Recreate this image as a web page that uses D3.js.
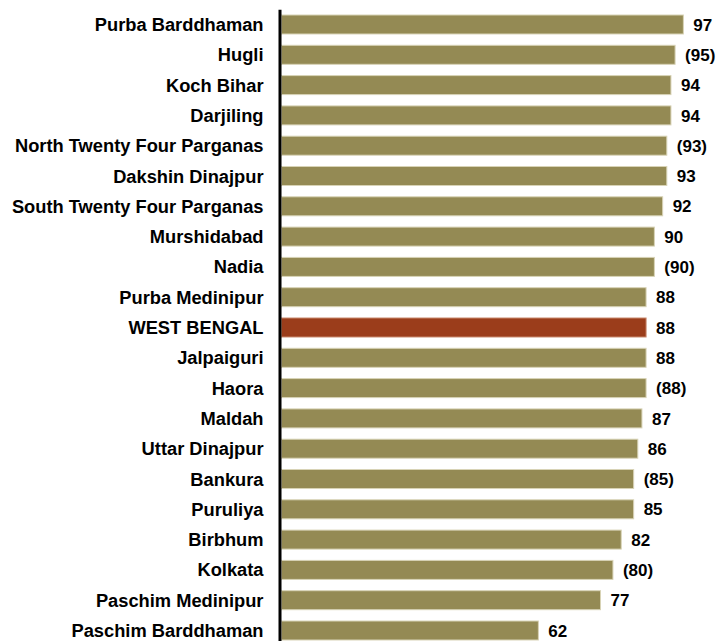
<!DOCTYPE html>
<html>
<head>
<meta charset="utf-8">
<script src="https://cdn.jsdelivr.net/npm/d3@7"></script>
<style>
  body { margin: 0; background: #fff; }
  text { font-family: "Liberation Sans", Arial, sans-serif; font-weight: bold; fill: #000; }
</style>
</head>
<body>
<div class="vis-holder"></div>
<script>
// districts, top to bottom
var districts = ["Purba Barddhaman", "Hugli", "Koch Bihar", "Darjiling",
  "North Twenty Four Parganas", "Dakshin Dinajpur", "South Twenty Four Parganas",
  "Murshidabad", "Nadia", "Purba Medinipur", "WEST BENGAL", "Jalpaiguri", "Haora",
  "Maldah", "Uttar Dinajpur", "Bankura", "Puruliya", "Birbhum", "Kolkata",
  "Paschim Medinipur", "Paschim Barddhaman"];
// bar values
var values = [97, 95, 94, 94, 93, 93, 92, 90, 90, 88, 88, 88, 88, 87, 86, 85, 85, 82, 80, 77, 62];
// printed value labels (brackets as in the source)
var valueLabels = ["97", "(95)", "94", "94", "(93)", "93", "92", "90", "(90)", "88", "88",
  "88", "(88)", "87", "86", "(85)", "85", "82", "(80)", "77", "62"];
var highlight = "WEST BENGAL";

var mydata = districts.map(function(d, i) {
  return { name: d, value: values[i], label: valueLabels[i] };
});

// svg size
var width = 718;
var height = 641;

var svg = d3.select(".vis-holder")
            .append("svg")
            .attr("width", width)
            .attr("height", height);

// x-scale, 0 sits just right of the axis line
var xScale = d3.scaleLinear()
               .domain([0, 100])
               .range([281.5, 695.8]);

// y-scale, one band per district
var yScale = d3.scaleBand()
               .domain(districts)
               .range([9.35, 9.35 + 21 * 30.3])
               .paddingInner(0.373)
               .paddingOuter(0.1865);

// bars
svg.append("g")
   .selectAll("rect")
   .data(mydata)
   .enter()
   .append("rect")
   .attr("x", xScale(0))
   .attr("y", function(d) { return yScale(d.name); })
   .attr("width", function(d) { return xScale(d.value) - xScale(0); })
   .attr("height", yScale.bandwidth())
   .attr("fill", function(d) { return d.name === highlight ? "#9b3d1b" : "#948a54"; })
   .attr("stroke", function(d) { return d.name === highlight ? "#c98a6f" : "#d8d3b6"; })
   .attr("stroke-width", 1);

// value labels
svg.append("g")
   .selectAll("text")
   .data(mydata)
   .enter()
   .append("text")
   .attr("x", function(d) { return xScale(d.value) + 10; })
   .attr("y", function(d) { return yScale(d.name) + yScale.bandwidth() / 2; })
   .attr("dy", "0.36em")
   .style("font-size", "17px")
   .text(function(d) { return d.label; });

// category axis with the thick black line
var yAxis = svg.append("g")
               .attr("transform", "translate(279.5, 0)")
               .call(d3.axisLeft(yScale).tickSize(0).tickPadding(16));

yAxis.select(".domain")
     .attr("stroke", "#000")
     .attr("stroke-width", 3);

yAxis.selectAll("text")
     .attr("dy", "0.36em")
     .style("font-size", "18.3px")
     .style("font-family", "'Liberation Sans', Arial, sans-serif")
     .style("font-weight", "bold")
     .attr("fill", "#000");
</script>
</body>
</html>
